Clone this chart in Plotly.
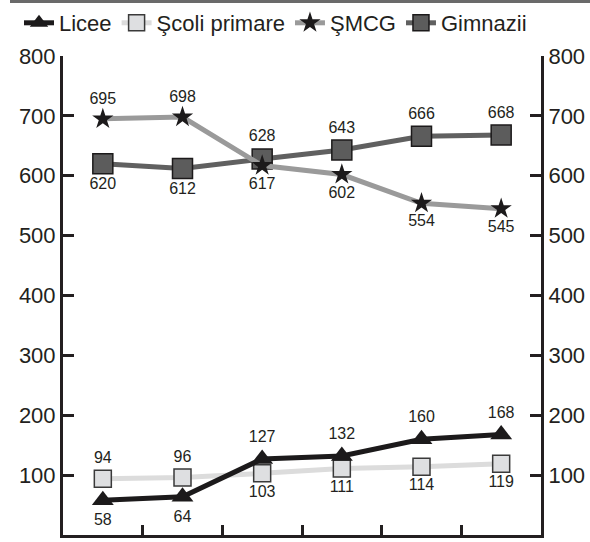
import plotly.graph_objects as go

# Six consecutive periods along the x axis
periods = [1, 2, 3, 4, 5, 6]

licee = [58, 64, 127, 132, 160, 168]
scoli_primare = [94, 96, 103, 111, 114, 119]
smcg = [695, 698, 617, 602, 554, 545]
gimnazii = [620, 612, 628, 643, 666, 668]

licee_pos = ["bottom center", "bottom center", "top center", "top center", "top center", "top center"]
scoli_pos = ["top center", "top center", "bottom center", "bottom center", "bottom center", "bottom center"]
smcg_pos = ["top center", "top center", "bottom center", "bottom center", "bottom center", "bottom center"]
gimnazii_pos = ["bottom center", "bottom center", "top center", "top center", "top center", "top center"]

y_ticks = [0, 100, 200, 300, 400, 500, 600, 700, 800]

FONT = "Liberation Sans, Arial, sans-serif"
INK = "#231f20"
W, H = 590, 542

fig = go.Figure()

# Licee sits on the mirrored right axis so its line is drawn above the others
fig.add_trace(go.Scatter(
    x=periods, y=licee, name="Licee", mode="lines+markers+text", yaxis="y2",
    line=dict(color="#1c1a1b", width=5),
    marker=dict(symbol="triangle-up", size=19, color="#1c1a1b", line=dict(width=0)),
    text=[str(v) for v in licee], textposition=licee_pos,
    textfont=dict(size=16, color=INK, family=FONT),
    legendrank=1,
))
fig.add_trace(go.Scatter(
    x=periods, y=scoli_primare, name="Şcoli primare", mode="lines+markers+text",
    line=dict(color="#dcdcdc", width=5),
    marker=dict(symbol="square", size=17, color="#dedfe1", line=dict(width=1.5, color="#3a3a3a")),
    text=[str(v) for v in scoli_primare], textposition=scoli_pos,
    textfont=dict(size=16, color=INK, family=FONT),
    legendrank=2,
))
fig.add_trace(go.Scatter(
    x=periods, y=gimnazii, name="Gimnazii", mode="lines+markers+text",
    line=dict(color="#606060", width=5),
    marker=dict(symbol="square", size=20, color="#5c5c5c", line=dict(width=1.5, color="#1c1a1b")),
    text=[str(v) for v in gimnazii], textposition=gimnazii_pos,
    textfont=dict(size=16, color=INK, family=FONT),
    legendrank=4,
))
fig.add_trace(go.Scatter(
    x=periods, y=smcg, name="ŞMCG", mode="lines+markers+text",
    line=dict(color="#9a9a9a", width=5),
    marker=dict(symbol="star", size=16, color="#1c1a1b", line=dict(width=0)),
    text=[str(v) for v in smcg], textposition=smcg_pos,
    textfont=dict(size=16, color=INK, family=FONT),
    legendrank=3,
))

axis_common = dict(
    range=[0, 800], tickvals=y_ticks, ticks="inside", ticklen=11, tickwidth=3,
    tickcolor=INK, showline=True, linewidth=3, linecolor=INK, showgrid=False,
    zeroline=False, tickfont=dict(size=22, color=INK, family=FONT),
    ticklabelstandoff=0, automargin=False,
)

# Plot box in pixels: left 63, right 541, top 56, bottom 535
x_dom = [63 / W, 541 / W]
y_dom = [(H - 535) / H, (H - 56) / H]

fig.update_layout(
    width=W, height=H,
    margin=dict(l=0, r=0, t=0, b=0, pad=0, autoexpand=False),
    paper_bgcolor="white", plot_bgcolor="white",
    font=dict(family=FONT, color=INK),
    showlegend=True,
    legend=dict(
        orientation="h", x=19 / W, y=1 - 23 / H, xanchor="left", yanchor="middle",
        font=dict(size=22, color=INK, family=FONT),
        itemwidth=30, tracegroupgap=0, bgcolor="rgba(0,0,0,0)",
    ),
    xaxis=dict(
        domain=x_dom, range=[0.5, 6.5], tickvals=[1.5, 2.5, 3.5, 4.5, 5.5],
        ticks="inside", ticklen=10, tickwidth=3, tickcolor=INK, showticklabels=False,
        showline=True, linewidth=3, linecolor=INK, showgrid=False, zeroline=False,
        automargin=False,
    ),
    yaxis=dict(side="left", domain=y_dom, **axis_common),
    yaxis2=dict(side="right", overlaying="y", anchor="x", **axis_common),
    # rule across the top of the figure
    shapes=[dict(
        type="rect", xref="paper", yref="paper", layer="above",
        x0=10 / W, x1=1, y0=1 - 3 / H, y1=1,
        fillcolor="#6a6a6a", line=dict(width=0),
    )],
)

fig.write_html("out.html")
